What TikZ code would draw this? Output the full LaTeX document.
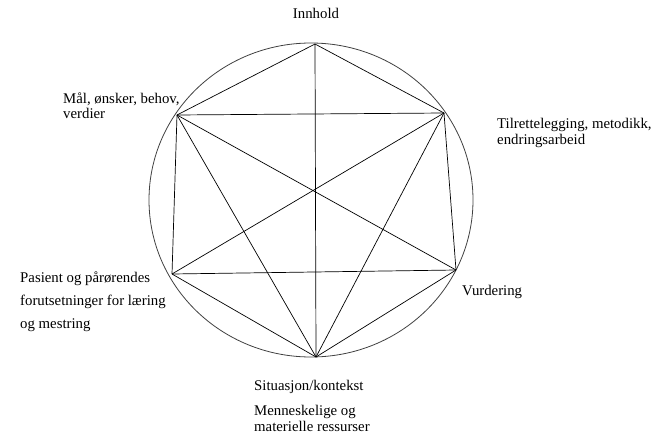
\documentclass[tikz,border=0pt]{standalone}
\usepackage{fontspec}
\setmainfont{Liberation Serif}
\begin{document}
\begin{tikzpicture}[x=1pt,y=-1pt,
  edge/.style={draw=black,line width=0.7pt},
  rim/.style={draw=black!75,line width=0.8pt},
  lbl/.style={inner sep=0pt,anchor=base west,align=left,font=\fontsize{14.8}{16}\selectfont},
  vtx/.style={coordinate}]
\useasboundingbox (0,0) rectangle (658,436);
\draw[rim] (311,200) ellipse [x radius=162, y radius=157];
\node[vtx] (T)  at (315,44) {};
\node[vtx] (UL) at (177,115) {};
\node[vtx] (UR) at (444,113) {};
\node[vtx] (R)  at (456,270) {};
\node[vtx] (B)  at (316,357) {};
\node[vtx] (LL) at (172,274) {};
\draw[edge] (T) -- (UL);
\draw[edge] (T) -- (UR);
\draw[edge] (T) -- (B);
\draw[edge] (UL) -- (UR);
\draw[edge] (UL) -- (LL);
\draw[edge] (UL) -- (B);
\draw[edge] (UL) -- (R);
\draw[edge] (UR) -- (R);
\draw[edge] (UR) -- (LL);
\draw[edge] (UR) -- (B);
\draw[edge] (LL) -- (R);
\draw[edge] (LL) -- (B);
\draw[edge] (R) -- (B);
\node[lbl,anchor=base] (innhold) at (316,19) {Innhold};
\node[lbl] (maal) at (63,118) {Mål, ønsker, behov,\\[-1pt]verdier};
\node[lbl] (tilr) at (497,144) {Tilrettelegging, metodikk,\\endringsarbeid};
\node[lbl,font=\fontsize{14.8}{23}\selectfont] (pas) at (20,328) {Pasient og pårørendes\\forutsetninger for læring\\og mestring};
\node[lbl] (vurd) at (462,295) {Vurdering};
\node[lbl] (sit) at (254,390) {Situasjon/kontekst};
\node[lbl] (menn) at (254,431) {Menneskelige og\\materielle ressurser};
\end{tikzpicture}
\end{document}
